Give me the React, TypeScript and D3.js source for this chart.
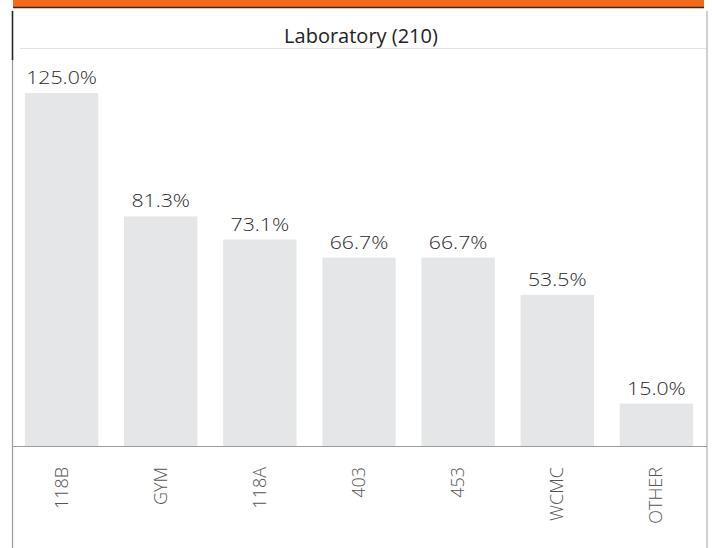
import React, { useRef, useEffect } from 'react'
import * as d3 from 'd3'

const categories = ['118B', 'GYM', '118A', '403', '453', 'WCMC', 'OTHER']
const values = [125.0, 81.3, 73.1, 66.7, 66.7, 53.5, 15.0]
const title = 'Laboratory (210)'

const W = 712
const H = 548

const App = () => {
  const chartRef = useRef<SVGSVGElement>(null)

  useEffect(() => {
    const svg = d3.select(chartRef.current)
    svg.selectAll('*').remove()

    const x = d3.scaleBand<string>().domain(categories).range([12, 706]).paddingInner(0.26).paddingOuter(0.13)
    const y = d3.scaleLinear().domain([0, 125]).range([446, 93])

    // orange header strip (cut off at the top of the picture)
    svg.append('rect').attr('x', 13).attr('y', 0).attr('width', 691).attr('height', 7).attr('fill', '#f4691c')
    svg.append('line').attr('x1', 13).attr('x2', 704).attr('y1', 7.5).attr('y2', 7.5).attr('stroke', '#3a2a20').attr('stroke-width', 1.5)

    // frame
    svg.append('line').attr('x1', 12.5).attr('x2', 12.5).attr('y1', 11).attr('y2', H).attr('stroke', '#9a9a9a').attr('stroke-width', 1.2)
    svg.append('line').attr('x1', 12.5).attr('x2', 12.5).attr('y1', 11).attr('y2', 60).attr('stroke', '#222').attr('stroke-width', 1.5)
    svg.append('line').attr('x1', 707).attr('x2', 707).attr('y1', 11).attr('y2', H).attr('stroke', '#b0b0b0').attr('stroke-width', 1.2)

    // title + separator
    svg
      .append('text')
      .attr('x', 361)
      .attr('y', 43)
      .attr('text-anchor', 'middle')
      .attr('font-family', 'Open Sans, sans-serif')
      .attr('font-size', 20)
      .attr('font-weight', 500)
      .attr('fill', '#222')
      .text(title)
    svg.append('line').attr('x1', 20).attr('x2', 706).attr('y1', 48.5).attr('y2', 48.5).attr('stroke', '#e2e2e2')

    // bars
    svg
      .append('g')
      .selectAll('rect')
      .data(values)
      .join('rect')
      .attr('x', (d, i) => x(categories[i])!)
      .attr('y', (d) => y(d))
      .attr('width', x.bandwidth())
      .attr('height', (d) => y(0) - y(d))
      .attr('fill', '#e4e6e8')

    // value labels (slightly wide in the source)
    svg
      .append('g')
      .selectAll('g')
      .data(values)
      .join('g')
      .attr('transform', (d, i) => `translate(${x(categories[i])! + x.bandwidth() / 2},${y(d) - 9}) scale(1.12,1)`)
      .append('text')
      .attr('text-anchor', 'middle')
      .attr('font-family', 'Open Sans, sans-serif')
      .attr('font-size', 19)
      .attr('font-weight', 300)
      .attr('fill', '#2a2a2a')
      .text((d) => d.toFixed(1) + '%')

    // baseline
    svg.append('line').attr('x1', 12).attr('x2', 707).attr('y1', 446.5).attr('y2', 446.5).attr('stroke', '#9c9c9c')

    // category labels
    svg
      .append('g')
      .selectAll('text')
      .data(categories)
      .join('text')
      .attr('transform', (d) => `translate(${x(d)! + x.bandwidth() / 2 + 6},467) rotate(-90)`)
      .attr('text-anchor', 'end')
      .attr('font-family', 'Open Sans, sans-serif')
      .attr('font-size', 18)
      .attr('font-weight', 300)
      .attr('fill', '#555')
      .text((d) => d)
  }, [])

  return (
    <svg ref={chartRef} width={W} height={H} style={{ position: 'absolute', left: 0, top: 0, background: '#fff' }} />
  )
}

export default App
